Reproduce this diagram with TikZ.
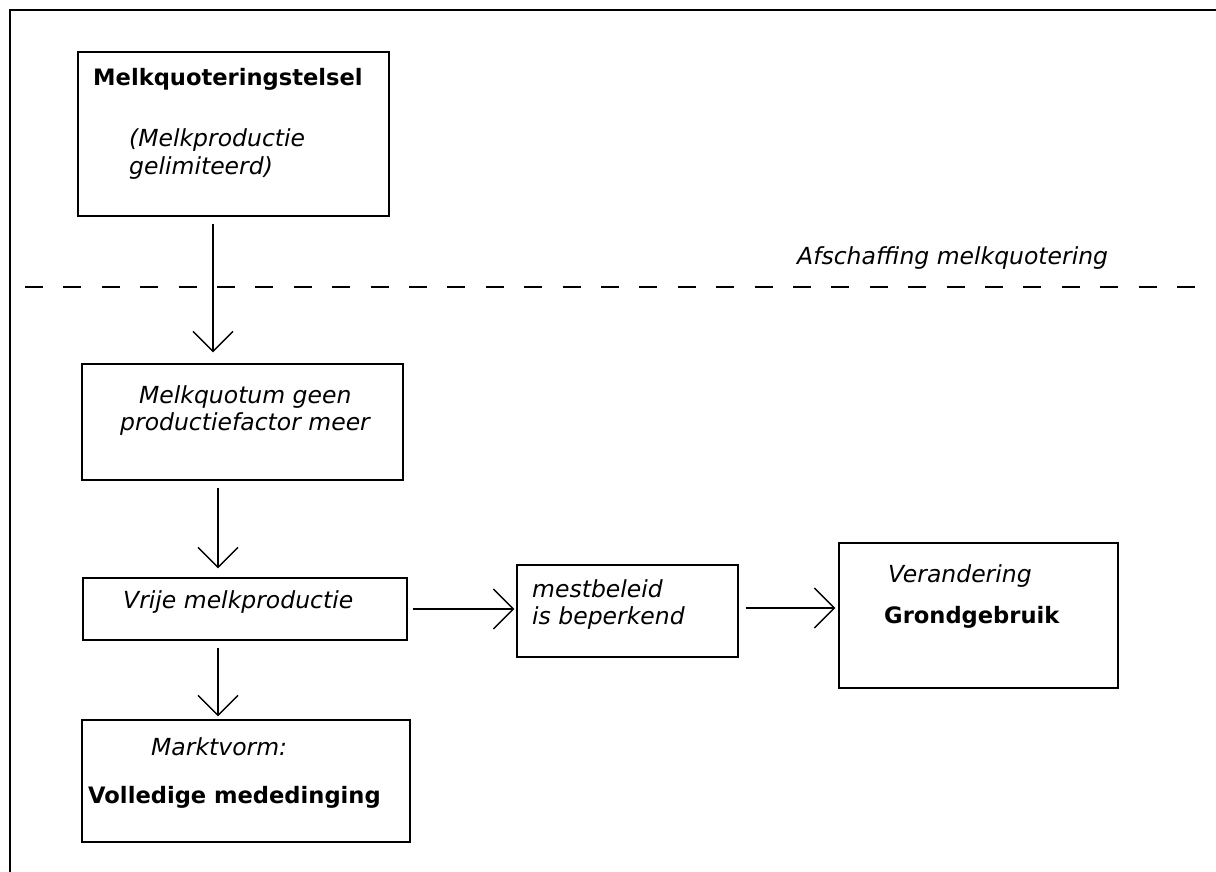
\documentclass[tikz,border=0pt]{standalone}
\usepackage{fontspec}
\setmainfont{DejaVu Sans}[ItalicFont={DejaVu Sans Oblique},BoldItalicFont={DejaVu Sans Bold Oblique}]
\usetikzlibrary{arrows.meta}

\begin{document}
\begin{tikzpicture}[x=1pt,y=-1pt,>={Straight Barb[length=20pt,width=40pt]},
        kader/.style={draw,line width=1.4pt,inner sep=0pt},
        vet/.style={anchor=base west,inner sep=0pt,font=\fontsize{22.6}{27}\selectfont\bfseries},
        schuin/.style={anchor=base west,inner sep=0pt,font=\fontsize{23.5}{27}\selectfont\itshape},
        pijl/.style={->,line width=1.3pt}]
            \useasboundingbox (0,0) rectangle (1216,872);

            % draw the frame
            \draw[line width=1.3pt] (10,872) -- (10,10) -- (1216,10);

            % draw the boxes
            \node[kader,minimum width=311pt,minimum height=164pt] (quota) at (233.5,134) {};
            \node[kader,minimum width=321pt,minimum height=116pt] (geen) at (242.5,422) {};
            \node[kader,minimum width=324pt,minimum height=62pt] (vrij) at (245,609) {};
            \node[kader,minimum width=328pt,minimum height=122pt] (markt) at (246,781) {};
            \node[kader,minimum width=221pt,minimum height=92pt] (mest) at (627.5,611) {};
            \node[kader,minimum width=279pt,minimum height=145pt] (grond) at (978.5,615.5) {};

            % text in the boxes
            \node[vet] (quotatitel) at (93,86) {Melkquoteringstelsel};
            \node[schuin] (quotaregel1) at (129,147) {(Melkproductie};
            \node[schuin] (quotaregel2) at (129,175) {gelimiteerd)};
            \node[schuin] (geenregel1) at (139,403) {Melkquotum geen};
            \node[schuin] (geenregel2) at (120,430) {productiefactor meer};
            \node[schuin] (vrijtekst) at (123,608) {Vrije melkproductie};
            \node[schuin] (markttitel) at (151,755) {Marktvorm:};
            \node[vet] (markttekst) at (88,803) {Volledige mededinging};
            \node[schuin] (mestregel1) at (532,597) {mestbeleid};
            \node[schuin] (mestregel2) at (532,624) {is beperkend};
            \node[schuin] (grondtitel) at (888,582) {Verandering};
            \node[vet] (grondtekst) at (884,623) {Grondgebruik};

            % dashed line
            \draw[line width=1.3pt,dash pattern=on 18pt off 20.4pt] (25,287) -- (1195,287);
            \node[schuin] (afschaffing) at (797,264) {Afschaffing melkquotering};

            % arrows
            \coordinate (kol1) at (213,0);
            \coordinate (kol2) at (218,0);
            \draw[pijl,shorten <=7pt,shorten >=11pt] (quota.south -| kol1) -- (geen.north -| kol1);
            \draw[pijl,shorten <=7pt,shorten >=9pt] (geen.south -| kol2) -- (vrij.north -| kol2);
            \draw[pijl,shorten <=7pt,shorten >=3pt] (vrij.south -| kol2) -- (markt.north -| kol2);
            \draw[pijl,shorten <=5pt,shorten >=2pt] (vrij.east) -- (vrij.east -| mest.west);
            \draw[pijl,shorten <=7pt,shorten >=3pt] ([yshift=3pt]mest.east) -- ([yshift=3pt]mest.east -| grond.west);
        \end{tikzpicture}
\end{document}
